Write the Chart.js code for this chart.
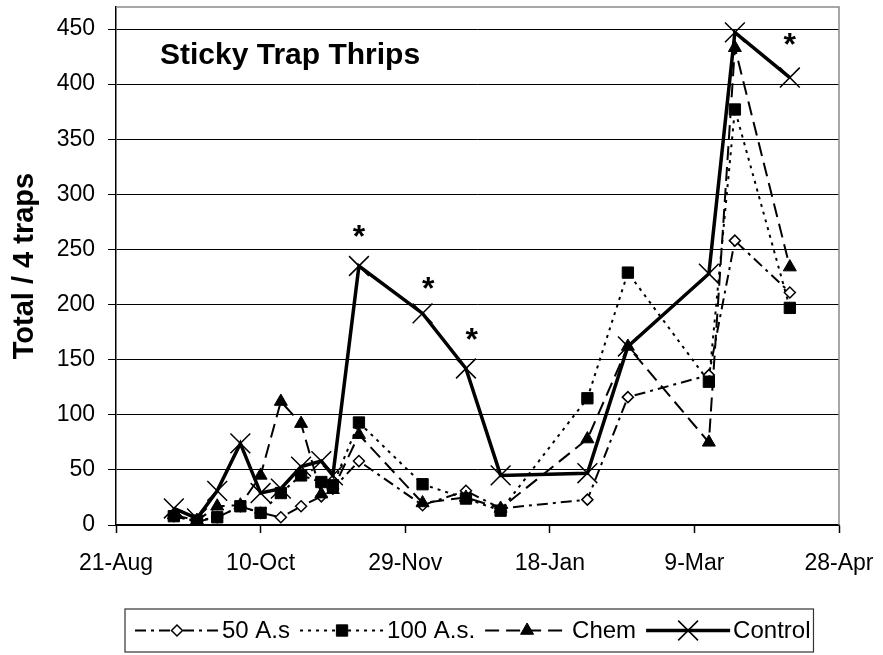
<!DOCTYPE html>
<html>
<head>
<meta charset="utf-8">
<script src="https://cdn.jsdelivr.net/npm/chart.js@4.4.1/dist/chart.umd.min.js"></script>
<style>
  html, body { margin: 0; padding: 0; background: #fff; }
</style>
</head>
<body>
<canvas id="thripsChart" width="883" height="655"></canvas>
<script>
// x-akse: dager etter 21. aug, merket med datoer
const dayLabels = ['21-Aug', '10-Oct', '29-Nov', '18-Jan', '9-Mar', '28-Apr'];
const sampleDays = [20, 28, 35, 43, 50, 57, 64, 71, 75, 84, 106, 121, 133, 163, 177, 205, 214, 233];
const yTicks = [0, 50, 100, 150, 200, 250, 300, 350, 400, 450];

// Serier (totalt pr 4 feller)
const as50    = [8, 3, 7, 17, 11, 7, 17, 26, 33, 58, 18, 31, 15, 23, 116, 136, 258, 211];
const as100   = [8, 4, 7, 17, 11, 29, 45, 39, 36, 93, 37, 24, 13, 115, 229, 130, 377, 197];
const chem    = [9, 4, 17, 18, 45, 112, 92, 28, 32, 82, 20, 25, 15, 78, 162, 75, 433, 234];
const control = [15, 6, 31, 74, 29, 33, 53, 58, 45, 235, 192, 142, 45, 47, 162, 228, 447, 406];

// Stjerner (signifikante forskjeller)
const starDays = [84, 108, 123, 233];
const starValues = [264, 217, 171, 438];

const FONT = '"Liberation Sans", Arial, sans-serif';

function pts(values) {
  return sampleDays.map((d, i) => ({ x: d, y: values[i] }));
}

// Ramme, tittel, stjerner og egen forklaring
const decor = {
  id: 'decor',
  beforeDatasetsDraw(chart) {
    const { ctx, chartArea: a } = chart;
    ctx.save();
    ctx.strokeStyle = '#8a8a8a';
    ctx.lineWidth = 1.5;
    ctx.beginPath();
    ctx.moveTo(a.left, a.top);
    ctx.lineTo(a.right, a.top);
    ctx.lineTo(a.right, a.bottom);
    ctx.stroke();
    ctx.restore();
  },
  afterDraw(chart) {
    const { ctx, chartArea: a, scales } = chart;
    ctx.save();
    ctx.fillStyle = '#000';

    // tittel inne i plottet
    ctx.font = 'bold 30px ' + FONT;
    ctx.textAlign = 'left';
    ctx.textBaseline = 'alphabetic';
    ctx.fillText('Sticky Trap Thrips', a.left + 44, a.top + 57);

    // stjerner
    ctx.font = 'bold 32px ' + FONT;
    ctx.textAlign = 'center';
    starDays.forEach((d, i) => {
      const px = scales.x.getPixelForValue(d);
      const py = scales.y.getPixelForValue(starValues[i]);
      ctx.fillText('*', px, py + 13);
    });

    // forklaring
    const top = chart.height - 46, bottom = chart.height - 3;
    const midY = (top + bottom) / 2;
    const sampleW = 84;
    ctx.font = '24px ' + FONT;
    ctx.textAlign = 'left';
    ctx.textBaseline = 'middle';
    let x = a.left + 19;
    chart.data.datasets.forEach((ds) => {
      ctx.save();
      ctx.strokeStyle = '#000';
      ctx.lineWidth = ds.borderWidth;
      ctx.setLineDash(ds.borderDash || []);
      ctx.beginPath();
      ctx.moveTo(x, midY);
      ctx.lineTo(x + sampleW, midY);
      ctx.stroke();
      ctx.setLineDash([]);
      ctx.fillStyle = ds.pointBackgroundColor;
      ctx.strokeStyle = '#000';
      ctx.lineWidth = ds.pointBorderWidth;
      Chart.helpers.drawPoint(ctx, {
        pointStyle: ds.pointStyle, rotation: 0,
        radius: ds.pointRadius, borderWidth: ds.pointBorderWidth
      }, x + sampleW / 2, midY);
      ctx.restore();
      x += sampleW + 3;
      ctx.fillText(ds.label, x, midY + 1);
      x += ctx.measureText(ds.label).width + 10;
    });
    ctx.strokeStyle = '#333';
    ctx.lineWidth = 1.2;
    ctx.strokeRect(a.left + 9, top, x - 7 - (a.left + 9), bottom - top);
    ctx.restore();
  }
};

new Chart(document.getElementById('thripsChart'), {
  type: 'line',
  data: {
    datasets: [
      {
        label: '50 A.s', data: pts(as50), order: 3,
        borderColor: '#000', borderWidth: 2, borderDash: [11, 5, 3, 5],
        pointStyle: 'rectRot', pointRadius: 5.5, pointBorderWidth: 1.5,
        pointBackgroundColor: '#fff', pointBorderColor: '#000'
      },
      {
        label: '100 A.s.', data: pts(as100), order: 2,
        borderColor: '#000', borderWidth: 2, borderDash: [3, 5],
        pointStyle: 'rect', pointRadius: 8, pointBorderWidth: 1,
        pointBackgroundColor: '#000', pointBorderColor: '#000'
      },
      {
        label: 'Chem', data: pts(chem), order: 1,
        borderColor: '#000', borderWidth: 2, borderDash: [14, 7],
        pointStyle: 'triangle', pointRadius: 7.5, pointBorderWidth: 1,
        pointBackgroundColor: '#000', pointBorderColor: '#000'
      },
      {
        label: 'Control', data: pts(control), order: 0,
        borderColor: '#000', borderWidth: 3.5, borderDash: [],
        pointStyle: 'crossRot', pointRadius: 14, pointBorderWidth: 1.5,
        pointBackgroundColor: '#000', pointBorderColor: '#000'
      }
    ]
  },
  options: {
    responsive: false,
    animation: false,
    devicePixelRatio: 1,
    layout: { autoPadding: false, padding: { top: 7, right: 44, bottom: 0, left: 0 } },
    elements: { line: { tension: 0, fill: false } },
    plugins: { legend: { display: false }, tooltip: { enabled: false } },
    scales: {
      x: {
        type: 'linear', min: 0, max: 250,
        ticks: {
          stepSize: 50, color: '#000', padding: 17, maxRotation: 0, autoSkip: false,
          font: { family: FONT, size: 23 },
          callback: (v) => dayLabels[Math.round(v / 50)]
        },
        grid: { drawOnChartArea: false, drawTicks: true, tickLength: 8, tickColor: '#000', tickWidth: 1.5 },
        border: { color: '#000', width: 1.5 },
        afterFit: (s) => { s.height = 130; s.paddingLeft = 0; s.paddingRight = 0; }
      },
      y: {
        min: 0, max: 470,
        afterBuildTicks: (s) => { s.ticks = yTicks.map((v) => ({ value: v })); },
        ticks: {
          color: '#000', padding: 13,
          font: { family: FONT, size: 23 }
        },
        grid: { color: '#000', lineWidth: 1, tickLength: 8, tickColor: '#000' },
        border: { color: '#000', width: 1.5 },
        title: {
          display: true, text: 'Total / 4 traps', color: '#000',
          font: { family: FONT, size: 29, weight: 'bold' },
          padding: { top: 8, bottom: 0 }
        },
        afterFit: (s) => { s.width = 116; s.paddingTop = 0; s.paddingBottom = 0; }
      }
    }
  },
  plugins: [decor]
});
</script>
</body>
</html>
